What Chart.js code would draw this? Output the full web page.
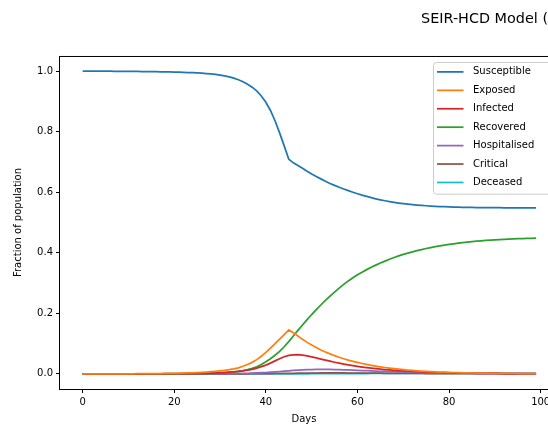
<!DOCTYPE html>
<html>
<head>
<meta charset="utf-8">
<script src="https://cdn.jsdelivr.net/npm/chart.js@4.4.1/dist/chart.umd.min.js"></script>
<style>
  html, body { margin: 0; padding: 0; background: #fff; overflow: hidden; }
  canvas { display: block; }
</style>
</head>
<body>
<canvas id="seirChart" width="548" height="429"></canvas>
<script>
const days = [
  0, 1, 2, 3, 4, 5, 6, 7, 8, 9, 10, 11, 12, 13, 14, 15, 16, 17, 18, 19,
  20, 21, 22, 23, 24, 25, 26, 27, 28, 29, 30, 31, 32, 33, 34, 35, 36, 37, 38, 39,
  40, 41, 42, 43, 44, 45, 46, 47, 48, 49, 50, 51, 52, 53, 54, 55, 56, 57, 58, 59,
  60, 61, 62, 63, 64, 65, 66, 67, 68, 69, 70, 71, 72, 73, 74, 75, 76, 77, 78, 79,
  80, 81, 82, 83, 84, 85, 86, 87, 88, 89, 90, 91, 92, 93, 94, 95, 96, 97, 98, 99
]

const susceptible = [
  0.9999, 0.9999, 0.9998, 0.9998, 0.9997, 0.9997, 0.9996, 0.9995, 0.9994, 0.9993,
  0.9992, 0.9990, 0.9989, 0.9987, 0.9985, 0.9983, 0.9981, 0.9978, 0.9975, 0.9972,
  0.9968, 0.9964, 0.9959, 0.9953, 0.9947, 0.9939, 0.9930, 0.9919, 0.9906, 0.9890,
  0.9870, 0.9845, 0.9812, 0.9770, 0.9715, 0.9648, 0.9568, 0.9470, 0.9345, 0.9180,
  0.8970, 0.8700, 0.8360, 0.7960, 0.7530, 0.7090, 0.6970, 0.6880, 0.6790, 0.6695,
  0.6605, 0.6520, 0.6440, 0.6363, 0.6290, 0.6225, 0.6165, 0.6108, 0.6053, 0.6000,
  0.5950, 0.5903, 0.5860, 0.5820, 0.5783, 0.5749, 0.5718, 0.5690, 0.5665, 0.5643,
  0.5623, 0.5605, 0.5590, 0.5576, 0.5564, 0.5553, 0.5543, 0.5535, 0.5528, 0.5522,
  0.5516, 0.5511, 0.5507, 0.5503, 0.5500, 0.5497, 0.5495, 0.5493, 0.5491, 0.5489,
  0.5488, 0.5487, 0.5486, 0.5485, 0.5484, 0.5483, 0.5483, 0.5482, 0.5482, 0.5481
]

const exposed = [
  0.0001, 0.0001, 0.0001, 0.0001, 0.0001, 0.0001, 0.0002, 0.0002, 0.0002, 0.0002,
  0.0003, 0.0003, 0.0004, 0.0005, 0.0006, 0.0007, 0.0008, 0.0010, 0.0012, 0.0014,
  0.0017, 0.0020, 0.0024, 0.0029, 0.0035, 0.0042, 0.0050, 0.0060, 0.0072, 0.0085,
  0.0100, 0.0118, 0.0140, 0.0167, 0.0200, 0.0250, 0.0310, 0.0380, 0.0470, 0.0580,
  0.0710, 0.0850, 0.1000, 0.1150, 0.1300, 0.1450, 0.1360, 0.1250, 0.1140, 0.1040,
  0.0950, 0.0870, 0.0790, 0.0720, 0.0660, 0.0600, 0.0550, 0.0500, 0.0455, 0.0415,
  0.0378, 0.0343, 0.0311, 0.0282, 0.0256, 0.0232, 0.0210, 0.0190, 0.0172, 0.0155,
  0.0140, 0.0126, 0.0113, 0.0102, 0.0092, 0.0083, 0.0075, 0.0068, 0.0061, 0.0055,
  0.0050, 0.0045, 0.0040, 0.0036, 0.0033, 0.0030, 0.0027, 0.0024, 0.0022, 0.0020,
  0.0018, 0.0016, 0.0014, 0.0013, 0.0012, 0.0011, 0.0010, 0.0009, 0.0008, 0.0007
]

const infected = [
  0.0000, 0.0000, 0.0000, 0.0000, 0.0001, 0.0001, 0.0001, 0.0001, 0.0001, 0.0001,
  0.0001, 0.0001, 0.0002, 0.0002, 0.0002, 0.0003, 0.0003, 0.0003, 0.0004, 0.0004,
  0.0005, 0.0006, 0.0007, 0.0009, 0.0011, 0.0013, 0.0016, 0.0020, 0.0024, 0.0030,
  0.0036, 0.0044, 0.0054, 0.0066, 0.0080, 0.0097, 0.0120, 0.0150, 0.0190, 0.0240,
  0.0290, 0.0355, 0.0428, 0.0500, 0.0565, 0.0608, 0.0628, 0.0632, 0.0620, 0.0595,
  0.0563, 0.0527, 0.0490, 0.0453, 0.0418, 0.0384, 0.0352, 0.0322, 0.0295, 0.0270,
  0.0247, 0.0226, 0.0206, 0.0188, 0.0172, 0.0157, 0.0143, 0.0130, 0.0119, 0.0108,
  0.0099, 0.0090, 0.0082, 0.0074, 0.0067, 0.0061, 0.0055, 0.0050, 0.0045, 0.0040,
  0.0036, 0.0033, 0.0030, 0.0027, 0.0024, 0.0022, 0.0020, 0.0018, 0.0016, 0.0014,
  0.0013, 0.0012, 0.0011, 0.0010, 0.0009, 0.0008, 0.0007, 0.0006, 0.0006, 0.0005
]

const recovered = [
  0.0000, 0.0000, 0.0000, 0.0000, 0.0000, 0.0000, 0.0000, 0.0000, 0.0000, 0.0000,
  0.0000, 0.0000, 0.0000, 0.0001, 0.0001, 0.0001, 0.0001, 0.0001, 0.0002, 0.0002,
  0.0003, 0.0004, 0.0005, 0.0006, 0.0008, 0.0010, 0.0013, 0.0016, 0.0020, 0.0025,
  0.0031, 0.0039, 0.0049, 0.0062, 0.0080, 0.0105, 0.0138, 0.0180, 0.0235, 0.0310,
  0.0400, 0.0500, 0.0615, 0.0745, 0.0895, 0.1065, 0.1250, 0.1435, 0.1615, 0.1790,
  0.1960, 0.2120, 0.2275, 0.2425, 0.2565, 0.2700, 0.2830, 0.2955, 0.3070, 0.3175,
  0.3270, 0.3360, 0.3443, 0.3520, 0.3592, 0.3660, 0.3725, 0.3786, 0.3843, 0.3896,
  0.3945, 0.3990, 0.4032, 0.4071, 0.4107, 0.4141, 0.4172, 0.4201, 0.4228, 0.4253,
  0.4276, 0.4297, 0.4317, 0.4335, 0.4352, 0.4367, 0.4381, 0.4394, 0.4406, 0.4417,
  0.4427, 0.4436, 0.4444, 0.4452, 0.4459, 0.4465, 0.4470, 0.4475, 0.4479, 0.4483
]

const hospitalised = [
  0.0000, 0.0000, 0.0000, 0.0000, 0.0000, 0.0000, 0.0000, 0.0000, 0.0000, 0.0000,
  0.0000, 0.0000, 0.0000, 0.0000, 0.0000, 0.0000, 0.0001, 0.0001, 0.0001, 0.0001,
  0.0001, 0.0001, 0.0001, 0.0002, 0.0002, 0.0002, 0.0003, 0.0003, 0.0004, 0.0004,
  0.0005, 0.0006, 0.0008, 0.0010, 0.0012, 0.0015, 0.0019, 0.0024, 0.0030, 0.0037,
  0.0045, 0.0055, 0.0066, 0.0078, 0.0090, 0.0102, 0.0113, 0.0123, 0.0132, 0.0139,
  0.0144, 0.0147, 0.0148, 0.0147, 0.0145, 0.0142, 0.0138, 0.0133, 0.0128, 0.0122,
  0.0116, 0.0110, 0.0104, 0.0098, 0.0092, 0.0086, 0.0080, 0.0075, 0.0070, 0.0065,
  0.0060, 0.0056, 0.0052, 0.0048, 0.0044, 0.0041, 0.0038, 0.0035, 0.0032, 0.0030,
  0.0027, 0.0025, 0.0023, 0.0021, 0.0019, 0.0018, 0.0016, 0.0015, 0.0014, 0.0013,
  0.0012, 0.0011, 0.0010, 0.0009, 0.0009, 0.0008, 0.0007, 0.0007, 0.0006, 0.0006
]

const critical = [
  0.0000, 0.0000, 0.0000, 0.0000, 0.0000, 0.0000, 0.0000, 0.0000, 0.0000, 0.0000,
  0.0000, 0.0000, 0.0000, 0.0000, 0.0000, 0.0000, 0.0000, 0.0000, 0.0000, 0.0000,
  0.0000, 0.0000, 0.0000, 0.0000, 0.0000, 0.0000, 0.0000, 0.0000, 0.0000, 0.0000,
  0.0001, 0.0001, 0.0001, 0.0002, 0.0002, 0.0003, 0.0003, 0.0004, 0.0005, 0.0006,
  0.0008, 0.0010, 0.0012, 0.0014, 0.0016, 0.0018, 0.0020, 0.0022, 0.0024, 0.0026,
  0.0027, 0.0028, 0.0029, 0.0029, 0.0030, 0.0030, 0.0029, 0.0029, 0.0028, 0.0027,
  0.0026, 0.0025, 0.0024, 0.0023, 0.0022, 0.0021, 0.0020, 0.0019, 0.0018, 0.0017,
  0.0016, 0.0015, 0.0014, 0.0013, 0.0012, 0.0011, 0.0011, 0.0010, 0.0009, 0.0009,
  0.0008, 0.0008, 0.0007, 0.0007, 0.0006, 0.0006, 0.0005, 0.0005, 0.0005, 0.0004,
  0.0004, 0.0004, 0.0003, 0.0003, 0.0003, 0.0003, 0.0002, 0.0002, 0.0002, 0.0002
]

const deceased = [
  0.0000, 0.0000, 0.0000, 0.0000, 0.0000, 0.0000, 0.0000, 0.0000, 0.0000, 0.0000,
  0.0000, 0.0000, 0.0000, 0.0000, 0.0000, 0.0000, 0.0000, 0.0000, 0.0000, 0.0000,
  0.0000, 0.0000, 0.0000, 0.0000, 0.0000, 0.0000, 0.0000, 0.0000, 0.0000, 0.0000,
  0.0000, 0.0000, 0.0000, 0.0000, 0.0000, 0.0000, 0.0000, 0.0000, 0.0000, 0.0000,
  0.0000, 0.0001, 0.0001, 0.0001, 0.0001, 0.0002, 0.0002, 0.0002, 0.0003, 0.0003,
  0.0004, 0.0004, 0.0005, 0.0005, 0.0006, 0.0007, 0.0007, 0.0008, 0.0009, 0.0009,
  0.0010, 0.0011, 0.0011, 0.0012, 0.0012, 0.0013, 0.0013, 0.0014, 0.0014, 0.0015,
  0.0015, 0.0016, 0.0016, 0.0016, 0.0017, 0.0017, 0.0017, 0.0018, 0.0018, 0.0018,
  0.0018, 0.0019, 0.0019, 0.0019, 0.0019, 0.0019, 0.0020, 0.0020, 0.0020, 0.0020,
  0.0020, 0.0020, 0.0020, 0.0020, 0.0020, 0.0020, 0.0020, 0.0020, 0.0020, 0.0020
]

const seriesNames = ['Susceptible', 'Exposed', 'Infected', 'Recovered', 'Hospitalised', 'Critical', 'Deceased']
const seriesValues = [susceptible, exposed, infected, recovered, hospitalised, critical, deceased]
const seriesColors = ['#1f77b4', '#ff7f0e', '#d62728', '#2ca02c', '#9467bd', '#8c564b', '#17becf']

const xTicks = [0, 20, 40, 60, 80, 100]
const yTicks = [0.0, 0.2, 0.4, 0.6, 0.8, 1.0]

const FONT = 'DejaVu Sans'

// matplotlib-style frame plus the legend box inside the axes (upper right)
const axesDecor = {
  id: 'axesDecor',
  afterDraw(chart) {
    const {ctx, chartArea} = chart
    ctx.save()
    ctx.strokeStyle = '#000'
    ctx.lineWidth = 1
    ctx.strokeRect(chartArea.left - 0.5, chartArea.top + 0.5, chartArea.width + 1, chartArea.height)

    const sets = chart.data.datasets
    const rowH = 18.43
    const bx = Math.round(chartArea.right - 115) + 0.5
    const by = Math.round(chartArea.top + 6) + 0.5
    const bh = 9.4 + rowH * (sets.length - 1) + 11.7
    ctx.beginPath()
    ctx.roundRect(bx, by, 140, bh, 3)
    ctx.fillStyle = 'rgba(255,255,255,0.8)'
    ctx.fill()
    ctx.strokeStyle = '#cccccc'
    ctx.stroke()

    ctx.font = '10px "' + FONT + '"'
    ctx.textBaseline = 'middle'
    ctx.textAlign = 'left'
    sets.forEach((ds, i) => {
      const cy = by + 9.4 + rowH * i
      ctx.beginPath()
      ctx.moveTo(bx + 3.5, cy)
      ctx.lineTo(bx + 30, cy)
      ctx.strokeStyle = ds.borderColor
      ctx.lineWidth = 1.75
      ctx.stroke()
      ctx.fillStyle = '#000'
      ctx.fillText(ds.label, bx + 39.5, cy)
    })
    ctx.restore()
  }
}

new Chart(
  document.getElementById('seirChart'),
  {
    type: 'line',
    data: {
      datasets: seriesNames.map((name, i) => ({
        label: name,
        data: toPoints(days, seriesValues[i]),
        borderColor: seriesColors[i],
        backgroundColor: seriesColors[i],
        borderWidth: 1.75,
        pointRadius: 0,
        tension: 0,
        fill: false
      }))
    },
    options: {
      responsive: false,
      animation: false,
      layout: { padding: 0 },
      plugins: {
        legend: { display: false },
        tooltip: { enabled: false },
        title: {
          display: true,
          text: 'SEIR-HCD Model (',
          align: 'end',
          color: '#000',
          font: { family: FONT, size: 14.4, weight: 'normal', lineHeight: 1.2 },
          padding: { top: 10.4, bottom: 28.3 }
        }
      },
      scales: {
        x: {
          type: 'linear',
          min: -4.95,
          max: 101.6,
          afterBuildTicks: scale => { scale.ticks = xTicks.map(v => ({ value: v })) },
          afterFit: scale => {
            scale.height = 40
            scale.paddingLeft = 0
            scale.paddingRight = 0
          },
          grid: { drawOnChartArea: false, drawTicks: true, tickLength: 4, color: '#000' },
          border: { display: false },
          ticks: {
            color: '#000',
            padding: 3,
            maxRotation: 0,
            font: { family: FONT, size: 10 }
          },
          title: {
            display: true,
            text: 'Days',
            color: '#000',
            padding: { top: 0, bottom: 4 },
            font: { family: FONT, size: 10 }
          }
        },
        y: {
          min: -0.05,
          max: 1.05,
          afterBuildTicks: scale => { scale.ticks = yTicks.map(v => ({ value: v })) },
          afterFit: scale => {
            scale.width = 60
            scale.paddingTop = 0
            scale.paddingBottom = 0
          },
          grid: { drawOnChartArea: false, drawTicks: true, tickLength: 4, color: '#000' },
          border: { display: false },
          ticks: {
            color: '#000',
            padding: 3,
            font: { family: FONT, size: 10 },
            callback: v => v.toFixed(1)
          },
          title: {
            display: true,
            text: 'Fraction of population',
            color: '#000',
            padding: { top: 12, bottom: 0 },
            font: { family: FONT, size: 10 }
          }
        }
      }
    },
    plugins: [axesDecor]
  }
)

function toPoints(xs, ys) {
  return xs.map((x, i) => ({ x: x, y: ys[i] }))
}
</script>
</body>
</html>
